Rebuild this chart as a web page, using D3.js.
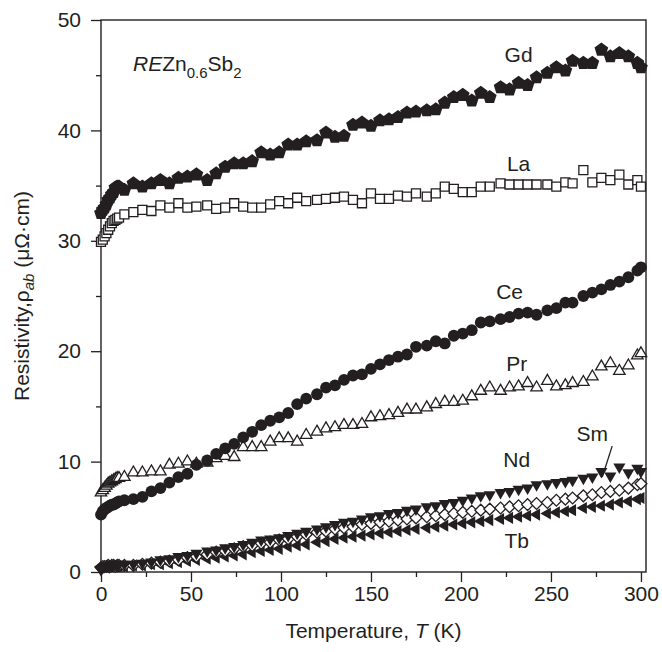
<!DOCTYPE html>
<html>
<head>
<meta charset="utf-8">
<script src="https://cdn.jsdelivr.net/npm/d3@7"></script>
<style>
  body { margin: 0; background: #fff; }
  svg { display: block; }
  text { font-family: "Liberation Sans", Arial, Helvetica, sans-serif; fill: #231f20; }
</style>
</head>
<body>
<svg id="chart" width="662" height="652"></svg>
<script>
// ---- Data ----
const temps = [0,1,2,3,4,5,6,7,8,9,10,
  13,18,23,28,33,38,43,48,53,59,
  64,69,74,79,84,89,94,99,104,109,
  114,120,125,130,135,140,145,150,155,160,
  165,170,175,181,186,191,196,201,206,211,
  216,222,227,232,237,242,248,253,258,262,
  268,273,278,283,288,293,298,300];

const gd = [32.5,32.8,33.0,33.3,33.7,33.9,34.2,34.4,34.8,34.9,34.9,
  34.6,35.2,34.9,35.2,35.5,35.2,35.7,35.8,36.0,35.5,
  36.1,36.7,37.0,37.0,37.2,38.0,37.8,38.0,38.7,38.7,
  39.0,39.1,39.8,39.4,39.5,40.5,40.7,40.4,40.9,41.0,
  41.2,41.6,41.7,41.8,41.9,42.5,43.0,43.2,42.7,43.4,
  43.0,43.9,43.7,44.3,44.1,44.8,45.2,45.7,45.4,46.3,
  46.1,46.1,47.3,46.7,47.0,46.7,46.1,45.7];

const la = [29.9,30.1,30.4,30.7,31.0,31.3,31.6,31.8,31.9,32.0,32.1,
  32.4,32.6,32.8,32.7,33.2,33.0,33.4,33.0,33.1,33.2,
  32.9,33.0,33.4,33.1,33.0,33.0,33.3,33.6,33.4,33.9,
  33.6,33.7,33.8,33.9,34.0,33.7,33.4,34.3,33.8,33.8,
  34.1,34.0,34.3,34.0,34.3,34.9,34.7,34.4,34.4,34.9,
  34.9,35.2,35.1,35.1,35.1,35.1,35.1,34.9,35.3,35.2,
  36.4,35.3,35.7,35.5,36.0,35.1,35.5,34.9];

const ce = [5.2,5.5,5.7,5.8,5.9,6.0,6.1,6.1,6.2,6.3,6.4,
  6.5,6.6,6.8,7.3,7.6,8.1,8.6,8.9,9.7,10.1,
  10.7,11.2,11.6,12.2,12.7,13.3,13.7,14.0,14.4,15.2,
  15.7,16.1,16.7,16.9,17.4,17.8,17.9,18.4,18.8,19.2,
  19.5,19.7,20.4,20.5,20.9,20.7,21.4,21.6,21.9,22.6,
  22.7,22.9,23.1,23.4,23.5,23.3,23.7,23.9,24.4,24.4,
  25.0,25.3,25.6,26.0,26.3,26.7,27.3,27.6];

const pr = [7.2,7.4,7.6,7.8,8.0,8.1,8.2,8.3,8.4,8.5,8.5,
  8.6,9.0,9.0,9.1,9.1,9.7,9.8,10.0,9.8,9.9,
  10.3,10.5,10.4,11.3,11.3,11.3,11.8,12.1,12.1,11.8,
  12.4,12.7,13.0,13.1,13.3,13.3,13.4,14.0,14.1,14.2,
  14.4,14.7,14.7,14.9,15.2,15.4,15.4,15.5,15.9,16.4,
  16.7,16.4,16.7,16.8,17.1,16.7,17.3,16.8,16.9,17.1,
  17.2,17.7,18.6,18.9,18.2,18.7,19.6,19.8];

const nd = [0.2,0.4,0.5,0.6,0.6,0.6,0.7,0.6,0.7,0.6,0.7,
  0.7,0.7,0.8,0.9,1.1,1.2,1.4,1.5,1.7,1.9,
  2.0,2.2,2.3,2.5,2.7,2.9,3.0,3.1,3.3,3.5,
  3.7,3.9,4.1,4.3,4.5,4.6,4.8,5.0,5.1,5.3,
  5.4,5.6,5.7,5.9,6.0,6.2,6.3,6.5,6.7,6.9,
  7.0,7.2,7.3,7.5,7.6,7.9,8.0,8.1,8.2,8.3,
  8.5,8.6,9.1,8.7,9.5,9.0,9.4,9.1];

const sm = [0.4,0.5,0.5,0.5,0.6,0.5,0.6,0.6,0.5,0.6,0.6,
  0.6,0.6,0.7,0.8,0.9,1.0,1.1,1.3,1.4,1.6,
  1.8,1.9,2.1,2.3,2.4,2.6,2.7,2.9,3.0,3.2,
  3.4,3.6,3.7,3.9,4.0,4.1,4.3,4.4,4.5,4.6,
  4.7,4.8,4.9,5.0,5.1,5.2,5.3,5.4,5.5,5.6,
  5.7,5.8,5.9,6.0,6.1,6.2,6.3,6.5,6.6,6.7,
  6.9,7.0,7.2,7.3,7.4,7.6,7.9,8.0];

const tb = [0.5,0.5,0.5,0.4,0.5,0.5,0.5,0.5,0.5,0.5,0.5,
  0.5,0.6,0.6,0.7,0.7,0.8,0.9,1.0,1.1,1.2,
  1.3,1.4,1.5,1.6,1.8,1.9,2.0,2.1,2.3,2.4,
  2.5,2.7,2.8,3.0,3.1,3.2,3.3,3.4,3.5,3.6,
  3.7,3.8,3.9,4.0,4.1,4.2,4.3,4.4,4.5,4.6,
  4.7,4.8,4.9,5.0,5.1,5.2,5.3,5.4,5.5,5.6,
  5.8,5.9,6.0,6.1,6.3,6.4,6.6,6.7];

const xTicks = [0,50,100,150,200,250,300];
const xMinor = [25,75,125,175,225,275];
const yTicks = [0,10,20,30,40,50];
const yMinor = [5,15,25,35,45];

const seriesNames = ["Tb","Sm","Nd","Pr","Ce","La","Gd"];
const seriesLabels = [
  {name:"Gd", t:232, v:46.2},
  {name:"La", t:232, v:36.3},
  {name:"Ce", t:227, v:24.7},
  {name:"Pr", t:231, v:18.2},
  {name:"Sm", t:273, v:11.9},
  {name:"Nd", t:231, v:9.5},
  {name:"Tb", t:231, v:2.2}
];

// ---- Layout ----
const svg = d3.select("#chart");
const L = 101, R = 646, T = 20, B = 572;
const x = d3.scaleLinear().domain([0, 302.8]).range([L, R]);
const y = d3.scaleLinear().domain([0, 50]).range([B, T]);
const ink = "#231f20";
const FS = "21px", FSsub = "15px";

// custom symbols (size = radius in px)
const poly = (pts) => ({ draw(ctx) { pts.forEach((p,i)=> i? ctx.lineTo(p[0],p[1]) : ctx.moveTo(p[0],p[1])); ctx.closePath(); } });
function regular(n, r, rot) {
  const pts = [];
  for (let k = 0; k < n; k++) {
    const a = rot + k * 2 * Math.PI / n;
    pts.push([r * Math.cos(a), r * Math.sin(a)]);
  }
  return pts;
}
const shapes = {
  Gd: { type: poly(regular(5, 7.2, -Math.PI/2)), fill: ink, stroke: "none" },
  La: { type: poly([[-4.5,-4.5],[4.5,-4.5],[4.5,4.5],[-4.5,4.5]]), fill: "#fff", stroke: ink },
  Ce: { type: { draw(ctx){ ctx.moveTo(5.9,0); ctx.arc(0,0,5.9,0,2*Math.PI); } }, fill: ink, stroke: "none" },
  Pr: { type: poly(regular(3, 6.6, -Math.PI/2)), fill: "#fff", stroke: ink },
  Nd: { type: poly(regular(3, 7.0, Math.PI/2)), fill: ink, stroke: "none" },
  Sm: { type: poly(regular(4, 5.9, 0)), fill: "#fff", stroke: ink },
  Tb: { type: poly(regular(3, 7.0, Math.PI)), fill: ink, stroke: "none" }
};
const dataBy = { Gd: gd, La: la, Ce: ce, Pr: pr, Nd: nd, Sm: sm, Tb: tb };

// ---- Axes ----
const gx = svg.append("g").attr("transform", `translate(0,${B})`);
gx.call(d3.axisBottom(x).tickValues(xTicks).tickSize(10).tickSizeOuter(0).tickPadding(4).tickFormat(d3.format("d")));
gx.append("g").call(d3.axisBottom(x).tickValues(xMinor).tickSize(5).tickSizeOuter(0).tickFormat(""));
const gy = svg.append("g").attr("transform", `translate(${L},0)`);
gy.call(d3.axisLeft(y).tickValues(yTicks).tickSize(10).tickSizeOuter(0).tickPadding(10).tickFormat(d3.format("d")));
gy.append("g").call(d3.axisLeft(y).tickValues(yMinor).tickSize(5).tickSizeOuter(0).tickFormat(""));
svg.selectAll(".domain").attr("stroke", "none");
svg.selectAll(".tick line").attr("stroke", ink).attr("stroke-width", 1.3);
svg.selectAll(".tick text").attr("fill", ink).style("font-size", FS);
gx.selectAll(".tick text").attr("dy", "0.72em");

// frame
svg.append("rect").attr("x", L).attr("y", T).attr("width", R - L).attr("height", B - T)
  .attr("fill", "none").attr("stroke", ink).attr("stroke-width", 1.4);

// ---- Points ----
const plot = svg.append("g");
seriesNames.forEach(name => {
  const s = shapes[name];
  const vals = dataBy[name];
  plot.append("g").selectAll("path")
    .data(temps.map((t, i) => ({ t, v: vals[i] })))
    .join("path")
    .attr("transform", d => `translate(${x(d.t)},${y(d.v)})`)
    .attr("d", d3.symbol().type(s.type).size(1))
    .attr("fill", s.fill)
    .attr("stroke", s.stroke)
    .attr("stroke-width", 1.3);
});

// ---- Labels ----
svg.append("g").selectAll("text").data(seriesLabels).join("text")
  .attr("x", d => x(d.t)).attr("y", d => y(d.v))
  .attr("text-anchor", "middle").style("font-size", FS)
  .text(d => d.name);
// Sm pointer
svg.append("line").attr("x1", x(284)).attr("y1", y(11.4)).attr("x2", x(278.5)).attr("y2", y(8.6))
  .attr("stroke", ink).attr("stroke-width", 1.3);

// compound label
const comp = svg.append("text").attr("x", 133).attr("y", 71).style("font-size", FS);
comp.append("tspan").style("font-style", "italic").text("RE");
comp.append("tspan").text("Zn");
comp.append("tspan").attr("dy", 7).style("font-size", FSsub).text("0.6");
comp.append("tspan").attr("dy", -7).text("Sb");
comp.append("tspan").attr("dy", 7).style("font-size", FSsub).text("2");

// axis titles
const xt = svg.append("text").attr("x", (L + R) / 2).attr("y", 638).attr("text-anchor", "middle").style("font-size", FS);
xt.append("tspan").text("Temperature, ");
xt.append("tspan").style("font-style", "italic").text("T");
xt.append("tspan").text(" (K)");

const yt = svg.append("text").attr("transform", `translate(29,${(T + B) / 2}) rotate(-90)`)
  .attr("text-anchor", "middle").style("font-size", FS);
yt.append("tspan").text("Resistivity,\u03c1");
yt.append("tspan").attr("dy", 5).style("font-size", FSsub).style("font-style", "italic").text("ab");
yt.append("tspan").attr("dy", -5).text(" (\u03bc\u03a9\u00b7cm)");
</script>
</body>
</html>
